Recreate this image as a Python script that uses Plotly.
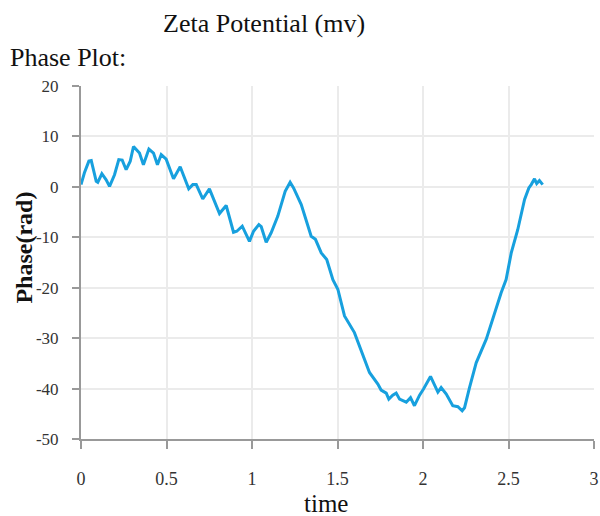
import plotly.graph_objects as go

# Data (time vs phase)
time = [0.0, 0.02, 0.046, 0.06, 0.089, 0.098, 0.122, 0.147, 0.167, 0.196, 0.221, 0.241,
        0.264, 0.288, 0.307, 0.342, 0.365, 0.397, 0.424, 0.447, 0.469, 0.498, 0.541, 0.58,
        0.63, 0.654, 0.674, 0.712, 0.751, 0.81, 0.849, 0.892, 0.911, 0.943, 0.985, 1.009,
        1.04, 1.054, 1.083, 1.112, 1.151, 1.194, 1.223, 1.243, 1.288, 1.346, 1.371, 1.405,
        1.437, 1.473, 1.502, 1.541, 1.599, 1.648, 1.687, 1.736, 1.755, 1.785, 1.8, 1.823,
        1.843, 1.863, 1.902, 1.927, 1.95, 1.98, 2.003, 2.044, 2.067, 2.087, 2.106, 2.136,
        2.174, 2.204, 2.229, 2.243, 2.272, 2.311, 2.37, 2.418, 2.457, 2.486, 2.516, 2.554,
        2.594, 2.619, 2.633, 2.652, 2.665, 2.681, 2.7]
phase = [0.45, 2.8, 5.1, 5.2, 1.1, 0.9, 2.6, 1.4, 0.1, 2.4, 5.4, 5.3,
         3.4, 5.1, 8.0, 6.7, 4.4, 7.5, 6.7, 4.4, 6.4, 5.5, 1.6, 4.0,
         -0.4, 0.45, 0.45, -2.4, -0.4, -5.3, -3.7, -9.0, -8.8, -7.8, -10.8, -8.8,
         -7.5, -7.9, -11.0, -9.1, -5.8, -0.9, 0.9, -0.2, -3.5, -9.8, -10.4, -13.1,
         -14.4, -18.4, -20.3, -25.6, -28.9, -33.5, -36.8, -39.1, -40.3, -40.9, -42.1, -41.3,
         -40.9, -42.1, -42.7, -41.8, -43.4, -41.3, -40.1, -37.6, -39.1, -40.7, -39.8, -41.1,
         -43.4, -43.6, -44.4, -43.8, -39.8, -34.9, -30.2, -25.0, -21.0, -18.4, -13.1, -8.5,
         -2.5, -0.2, 0.45, 1.6, 0.65, 1.25, 0.45]

x_ticks = [0, 0.5, 1, 1.5, 2, 2.5, 3]
x_tick_labels = ["0", "0.5", "1", "1.5", "2", "2.5", "3"]
y_ticks = [20, 10, 0, -10, -20, -30, -40, -50]
y_tick_labels = ["20", "10", "0", "-10", "-20", "-30", "-40", "-50"]

SERIF = "Liberation Serif, Times New Roman, serif"

fig = go.Figure()
fig.add_trace(go.Scatter(x=time, y=phase, mode="lines",
                         line=dict(color="#17a0de", width=3, shape="linear"),
                         showlegend=False))

fig.update_layout(
    width=600, height=516,
    margin=dict(l=81, r=6, t=86, b=77, autoexpand=False),
    paper_bgcolor="white", plot_bgcolor="white",
    font=dict(family=SERIF, color="#222"),
    xaxis=dict(range=[0, 3], tickvals=x_ticks, ticktext=x_tick_labels,
               showgrid=True, gridcolor="#ebebeb", gridwidth=2,
               showline=True, linecolor="#999", linewidth=2,
               ticks="outside", ticklen=8, tickwidth=2, tickcolor="#999",
               tickfont=dict(family=SERIF, size=18, color="#333"),
               ticklabelstandoff=14, zeroline=False, mirror=False, automargin=False),
    yaxis=dict(range=[-50, 20], tickvals=y_ticks, ticktext=y_tick_labels,
               showgrid=True, gridcolor="#ebebeb", gridwidth=2,
               showline=True, linecolor="#999", linewidth=2,
               ticks="outside", ticklen=7, tickwidth=2, tickcolor="#999",
               tickfont=dict(family=SERIF, size=17, color="#333"),
               ticklabelstandoff=10, zeroline=False, automargin=False),
    annotations=[
        dict(text="Zeta Potential (mv)", xref="paper", yref="paper",
             x=0.357, y=1.176, xanchor="center", yanchor="middle", showarrow=False,
             font=dict(family=SERIF, size=26, color="#111")),
        dict(text="Phase Plot:", xref="paper", yref="paper",
             x=-0.142, y=1.082, xanchor="left", yanchor="middle", showarrow=False,
             font=dict(family=SERIF, size=26, color="#111")),
        dict(text="<b>Phase(rad)</b>", xref="paper", yref="paper",
             x=-0.112, y=0.541, xanchor="center", yanchor="middle", showarrow=False,
             textangle=-90, font=dict(family=SERIF, size=24, color="#111")),
        dict(text="time", xref="paper", yref="paper",
             x=0.478, y=-0.182, xanchor="center", yanchor="middle", showarrow=False,
             font=dict(family=SERIF, size=25, color="#111")),
    ],
)

fig.write_html("out.html")
